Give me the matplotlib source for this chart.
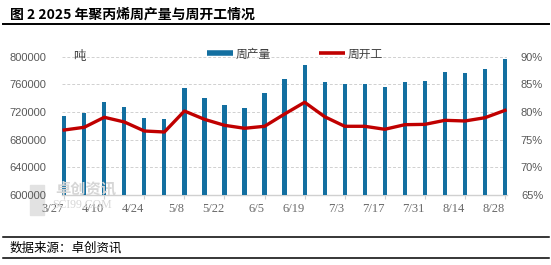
import matplotlib
matplotlib.use("Agg")
import matplotlib.pyplot as plt
from matplotlib.lines import Line2D
from matplotlib.ticker import FuncFormatter, MultipleLocator
import numpy as np

plt.rcParams['font.family'] = ['Noto Sans CJK SC', 'DejaVu Sans']

weeks = ["3/27", "4/3", "4/10", "4/17", "4/24", "5/1", "5/8", "5/15", "5/22", "5/29",
         "6/5", "6/12", "6/19", "6/26", "7/3", "7/10", "7/17", "7/24", "7/31", "8/7",
         "8/14", "8/21", "8/28"]
output_t = [714000, 718500, 734000, 727000, 711000, 710000, 755000, 740000, 730000, 726000,
            747000, 768000, 788000, 763000, 760000, 760000, 756000, 763000, 765000, 778000,
            776000, 782000, 797000]
util_pct = [76.75, 77.24, 79.05, 78.2, 76.57, 76.39, 80.18, 78.68, 77.6, 77.06,
            77.42, 79.64, 81.76, 79.15, 77.42, 77.42, 76.88, 77.71, 77.77, 78.5,
            78.38, 78.97, 80.3]

title = "图 2 2025 年聚丙烯周产量与周开工情况"
source = "数据来源：卓创资讯"
bar_name = "周产量"
line_name = "周开工"
unit = "吨"

BLUE = "#136FA0"
RED = "#C00000"
GREY = "#595959"

W, H = 551, 265
fig = plt.figure(figsize=(W / 100, H / 100), dpi=100)

# decorative lines and texts
fig.add_artist(Line2D([3 / W, 549 / W], [1 - 24 / H, 1 - 24 / H], color="black", lw=1.4))
fig.add_artist(Line2D([3 / W, 549 / W], [1 - 236.5 / H, 1 - 236.5 / H], color="black", lw=1.1))
fig.add_artist(Line2D([3 / W, 549 / W], [1 - 258 / H, 1 - 258 / H], color="black", lw=1.1))
fig.text(10 / W, 1 - 15 / H, title, fontsize=10, fontweight="bold", va="center", ha="left",
         color="black")
fig.text(10 / W, 1 - 248 / H, source, fontsize=9, va="center", ha="left", color="black")

# watermark
fig.text(55 / W, 1 - 188 / H, "卓创资讯", fontsize=11, color="#D6D6D6", va="center", ha="left",
         fontweight="bold", zorder=0)
fig.text(52 / W, 1 - 205 / H, "SCI99.COM", fontsize=8.5, color="#D6D6D6", va="center", ha="left",
         family="Liberation Serif", zorder=0)
fig.add_artist(plt.Rectangle((30 / W, 1 - 215 / H), 14 / W, 30 / H, color="#E2E2E2", zorder=0,
                             transform=fig.transFigure))

x = np.arange(len(weeks))
ax = fig.add_axes([62 / W, 1 - 195 / H, (507 - 62) / W, (195 - 56.7) / H])
ax.patch.set_alpha(0)
ax.bar(x, output_t, width=0.21, color=BLUE, zorder=3)
ax.set_ylim(600000, 800000)
ax.set_xlim(-0.11, len(weeks) - 1 + 0.1)
ax.yaxis.set_major_locator(MultipleLocator(40000))
ax.yaxis.set_major_formatter(FuncFormatter(lambda v, p: f"{int(round(v))}"))
ax.grid(axis="y", color="#D0D0D0", linestyle=(0, (3, 2)), linewidth=0.7, zorder=0)
for s in ["top", "right", "left"]:
    ax.spines[s].set_visible(False)
ax.spines["bottom"].set_color("#D0D0D0")
ax.spines["bottom"].set_linewidth(1.0)
ax.tick_params(axis="y", length=0, labelsize=8, labelcolor=GREY, pad=11)
for lab in ax.get_yticklabels():
    lab.set_family("Liberation Sans")
ax.set_xticks(x[::2])
ax.set_xticklabels(weeks[::2], family="Liberation Serif", fontsize=9, color="#6A6A6A", ha="right")
ax.tick_params(axis="x", length=3, color="#D0D0D0", pad=3)
ax.text(11 / (507 - 62), 1.0, unit, transform=ax.transAxes, fontsize=9, color="#404040",
        va="center", ha="left")

ax2 = ax.twinx()
ax2.plot(x, util_pct, color=RED, lw=2.4, zorder=4, solid_joinstyle="round")
ax2.set_ylim(65, 90)
ax2.yaxis.set_major_locator(MultipleLocator(5))
ax2.yaxis.set_major_formatter(FuncFormatter(lambda v, p: f"{int(round(v))}%"))
for s in ["top", "right", "left", "bottom"]:
    ax2.spines[s].set_visible(False)
ax2.tick_params(axis="y", length=0, labelsize=8, labelcolor=GREY, pad=10)
for lab in ax2.get_yticklabels():
    lab.set_family("Liberation Sans")

handles = [Line2D([0], [0], color=BLUE, lw=4, solid_capstyle="butt"),
           Line2D([0], [0], color=RED, lw=2.6, solid_capstyle="butt")]
fig.legend(handles, [bar_name, line_name], loc="center", bbox_to_anchor=(295 / W, 1 - 54 / H),
           ncol=2, frameon=False, fontsize=8.5, handlelength=2.2, columnspacing=4.0,
           handletextpad=0.3, labelcolor="#404040")

fig.savefig("out.png", dpi=100)
